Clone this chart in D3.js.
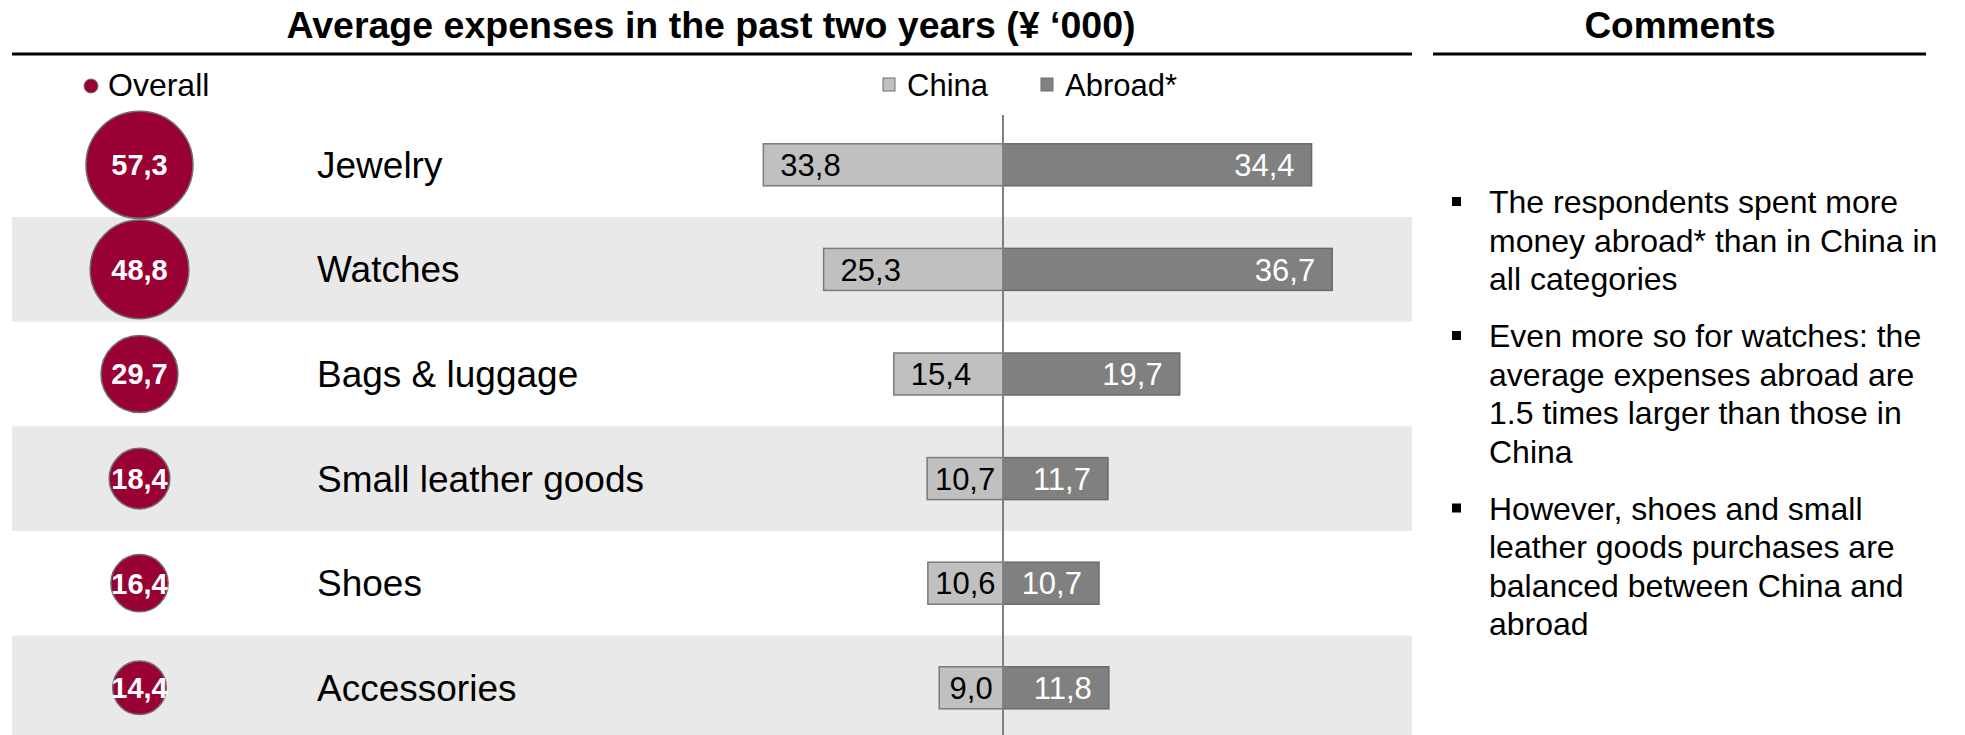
<!DOCTYPE html>
<html>
<head>
<meta charset="utf-8">
<title>Average expenses</title>
<script src="https://cdn.jsdelivr.net/npm/d3@7"></script>
<style>
  body { margin: 0; background: #fff; }
  svg { display: block; font-family: "Liberation Sans", Arial, sans-serif; }
</style>
</head>
<body>
<div id="chartArea"></div>
<script>
// data (values in thousands of yuan)
var categories = ['Jewelry', 'Watches', 'Bags & luggage', 'Small leather goods', 'Shoes', 'Accessories'];
var overall = [57.3, 48.8, 29.7, 18.4, 16.4, 14.4];
var china = [33.8, 25.3, 15.4, 10.7, 10.6, 9.0];
var abroad = [34.4, 36.7, 19.7, 11.7, 10.7, 11.8];
var seriesNames = ['China', 'Abroad*'];

var comments = [
  ['The respondents spent more', 'money abroad* than in China in', 'all categories'],
  ['Even more so for watches: the', 'average expenses abroad are', '1.5 times larger than those in', 'China'],
  ['However, shoes and small', 'leather goods purchases are', 'balanced between China and', 'abroad']
];

var W = 1965, H = 735;
var zeroX = 1003;
var colors = {
  overall: '#990033', china: '#c0c0c0', abroad: '#808080',
  band: '#e9e9e9', edge: '#6f6f6f'
};

var rows = categories.map(function(c, i) {
  return { cat: c, overall: overall[i], china: china[i], abroad: abroad[i], i: i };
});

var fmt = d3.formatLocale({ decimal: ',', thousands: '.', grouping: [3], currency: ['', ''] }).format('.1f');

var svg = d3.select('#chartArea').append('svg')
  .attr('width', W).attr('height', H);

var y = d3.scaleBand().domain(categories).range([112.5, 112.5 + 6 * 104.6]);
// the two halves were drawn on slightly different scales in the original
var xChina = d3.scaleLinear().domain([0, 40]).range([zeroX, zeroX - 283.6]);
var xAbroad = d3.scaleLinear().domain([0, 40]).range([zeroX, zeroX + 358.8]);
var r = d3.scaleSqrt().domain([0, 57.3]).range([0, 53.5]);

// headers
svg.append('text').attr('x', 711).attr('y', 38).attr('text-anchor', 'middle')
  .attr('font-size', 37.5).attr('font-weight', 'bold')
  .text('Average expenses in the past two years (\u00a5 \u2018000)');
svg.append('text').attr('x', 1680).attr('y', 38).attr('text-anchor', 'middle')
  .attr('font-size', 37).attr('font-weight', 'bold').text('Comments');
svg.append('line').attr('x1', 12).attr('x2', 1412).attr('y1', 54).attr('y2', 54)
  .attr('stroke', '#000').attr('stroke-width', 3);
svg.append('line').attr('x1', 1433).attr('x2', 1926).attr('y1', 54).attr('y2', 54)
  .attr('stroke', '#000').attr('stroke-width', 3);

// alternating row bands
svg.selectAll('rect.band').data(rows.filter(function(d) { return d.i % 2 === 1; }))
  .enter().append('rect').attr('class', 'band')
  .attr('x', 12).attr('width', 1400)
  .attr('y', function(d) { return y(d.cat); })
  .attr('height', y.bandwidth())
  .attr('fill', colors.band);

// legend
svg.append('circle').attr('cx', 91).attr('cy', 86).attr('r', 7)
  .attr('fill', colors.overall).attr('stroke', colors.edge).attr('stroke-width', 1);
svg.append('text').attr('x', 108).attr('y', 96).attr('font-size', 32).text('Overall');
var legendX = [883, 1041];
[colors.china, colors.abroad].forEach(function(c, i) {
  svg.append('rect').attr('x', legendX[i]).attr('y', 78).attr('width', 12).attr('height', 13)
    .attr('fill', c).attr('stroke', colors.edge).attr('stroke-width', 1);
  svg.append('text').attr('x', legendX[i] + 24).attr('y', 96).attr('font-size', 31)
    .text(seriesNames[i]);
});

var row = svg.selectAll('g.row').data(rows).enter().append('g')
  .attr('class', 'row')
  .attr('transform', function(d) { return 'translate(0,' + (y(d.cat) + y.bandwidth() / 2) + ')'; });

// category labels
row.append('text').attr('x', 317).attr('dy', '0.35em').attr('font-size', 37)
  .text(function(d) { return d.cat; });

// bars
var barH = 42;
row.append('rect')
  .attr('x', function(d) { return xChina(d.china); })
  .attr('width', function(d) { return zeroX - xChina(d.china); })
  .attr('y', -barH / 2).attr('height', barH)
  .attr('fill', colors.china).attr('stroke', '#7a7a7a').attr('stroke-width', 1.5);
row.append('rect')
  .attr('x', zeroX)
  .attr('width', function(d) { return xAbroad(d.abroad) - zeroX; })
  .attr('y', -barH / 2).attr('height', barH)
  .attr('fill', colors.abroad).attr('stroke', '#6a6a6a').attr('stroke-width', 1.5);

// bar labels: inside end, centred when the bar is too short
var pad = 17;
row.append('text').attr('font-size', 31).attr('dy', '0.36em').attr('fill', '#000')
  .text(function(d) { return fmt(d.china); })
  .each(function(d) {
    var t = d3.select(this), w = this.getComputedTextLength();
    var x0 = xChina(d.china), bw = zeroX - x0;
    if (bw >= w + 2 * pad) t.attr('x', x0 + pad).attr('text-anchor', 'start');
    else t.attr('x', x0 + bw / 2).attr('text-anchor', 'middle');
  });
row.append('text').attr('font-size', 31).attr('dy', '0.36em').attr('fill', '#fff')
  .text(function(d) { return fmt(d.abroad); })
  .each(function(d) {
    var t = d3.select(this), w = this.getComputedTextLength();
    var x1 = xAbroad(d.abroad), bw = x1 - zeroX;
    if (bw >= w + 2 * pad) t.attr('x', x1 - pad).attr('text-anchor', 'end');
    else t.attr('x', zeroX + bw / 2).attr('text-anchor', 'middle');
  });

// zero line
svg.append('line').attr('x1', zeroX).attr('x2', zeroX).attr('y1', 115).attr('y2', H)
  .attr('stroke', '#808080').attr('stroke-width', 2);

// overall bubbles
row.append('circle').attr('cx', 139.5).attr('r', function(d) { return r(d.overall); })
  .attr('fill', colors.overall).attr('stroke', colors.edge).attr('stroke-width', 1.5);
row.append('text').attr('x', 139.5).attr('dy', '0.36em').attr('text-anchor', 'middle')
  .attr('font-size', 29).attr('font-weight', 'bold').attr('fill', '#fff')
  .text(function(d) { return fmt(d.overall); });

// comments
var lineY = 213, lineH = 38.5, gap = 18.5;
var cg = svg.append('g');
comments.forEach(function(p, pi) {
  cg.append('rect').attr('x', 1452).attr('y', lineY - 16).attr('width', 9).attr('height', 9)
    .attr('fill', '#000');
  p.forEach(function(l) {
    cg.append('text').attr('x', 1489).attr('y', lineY).attr('font-size', 32).text(l);
    lineY += lineH;
  });
  lineY += gap;
});
</script>
</body>
</html>
